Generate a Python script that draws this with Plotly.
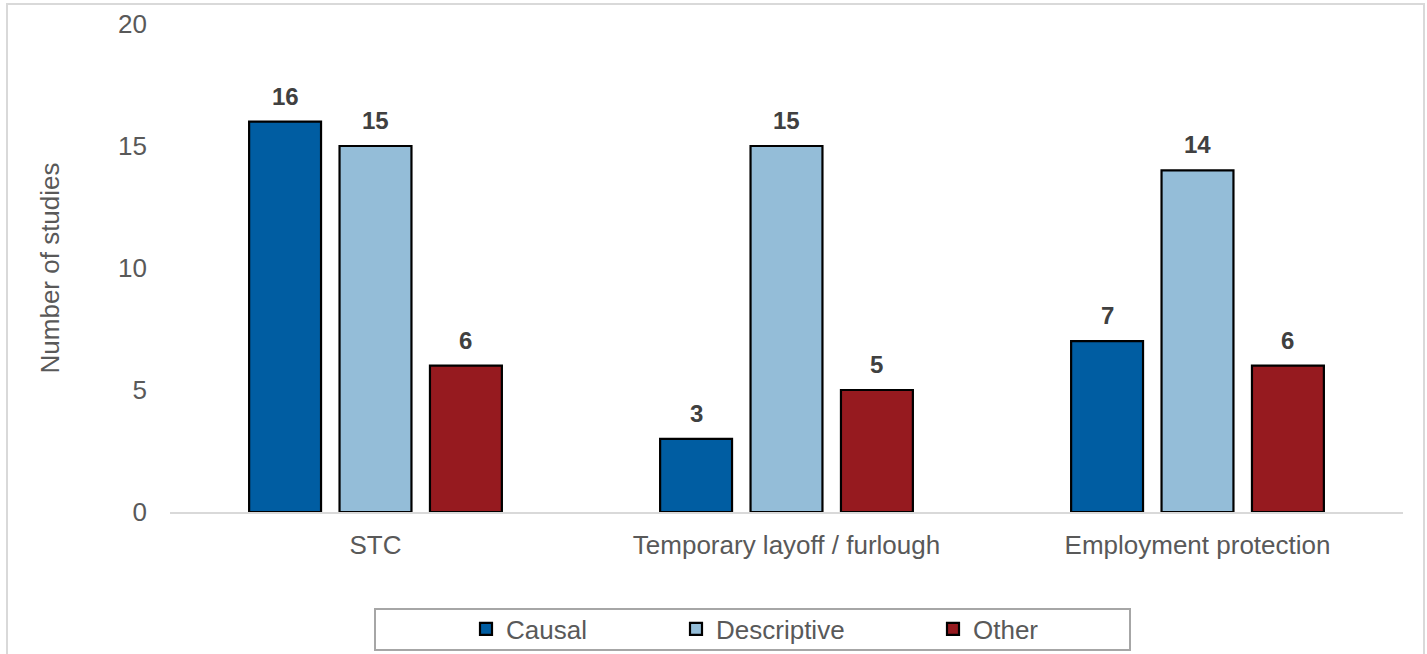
import plotly.graph_objects as go

categories = ["STC", "Temporary layoff / furlough", "Employment protection"]
causal = [16, 3, 7]
descriptive = [15, 15, 14]
other = [6, 5, 6]
series_names = ["Causal", "Descriptive", "Other"]
series_values = [causal, descriptive, other]
colors = ["#005DA2", "#94BDD8", "#961A1F"]
y_ticks = [0, 5, 10, 15, 20]

FONT = "Liberation Sans, Arial, sans-serif"
FS = 26
slot = 0.22
bar_w = 0.175

fig = go.Figure()
legend_ids = ["legend", "legend2", "legend3"]
for i, (name, vals, col) in enumerate(zip(series_names, series_values, colors)):
    xs = [j + (i - 1) * slot for j in range(len(categories))]
    fig.add_trace(go.Bar(
        x=xs, y=vals, name=name, width=bar_w, showlegend=True,
        marker=dict(color=col, line=dict(color="#000000", width=2.2)),
        legend=legend_ids[i], hoverinfo="y",
    ))
    for x, v in zip(xs, vals):
        fig.add_annotation(
            x=x, y=v, xref="x", yref="y", text=f"<b>{v}</b>", showarrow=False,
            yanchor="bottom", yshift=10,
            font=dict(family=FONT, size=24, color="#404040"),
        )

# plot area in pixels: x 170..1403, y 24..512
W, H = 1427, 654
L, R, T, B = 170, 1403, 24, 512
def px(x):
    return (x - L) / (R - L)
def py(y):
    return (B - y) / (B - T)

legend_x = [466, 676, 933]
leg_common = dict(orientation="h", yanchor="middle", xanchor="left",
                  font=dict(family=FONT, size=FS, color="#595959"),
                  bgcolor="rgba(0,0,0,0)", borderwidth=0, itemclick=False,
                  visible=True)

fig.update_layout(
    width=W, height=H,
    margin=dict(l=L, r=W - R, t=T, b=H - B, autoexpand=False),
    paper_bgcolor="white", plot_bgcolor="white",
    barmode="overlay", showlegend=True,
    font=dict(family=FONT, size=FS, color="#595959"),
    xaxis=dict(
        range=[-0.5, 2.5], tickmode="array", tickvals=list(range(len(categories))),
        ticktext=categories, showgrid=False, zeroline=False,
        showline=True, linecolor="#D9D9D9", linewidth=2, ticks="",
        ticklabelstandoff=9, automargin=False,
        tickfont=dict(family=FONT, size=FS, color="#595959"),
    ),
    yaxis=dict(
        range=[0, 20], tickmode="array", tickvals=y_ticks, showgrid=False,
        zeroline=False, showline=False, ticks="", ticklabelstandoff=22,
        automargin=False,
        tickfont=dict(family=FONT, size=FS, color="#595959"),
        title=dict(text="Number of studies", standoff=50,
                   font=dict(family=FONT, size=FS, color="#595959")),
    ),
    legend=dict(x=px(legend_x[0]), y=py(629), **leg_common),
    legend2=dict(x=px(legend_x[1]), y=py(629), **leg_common),
    legend3=dict(x=px(legend_x[2]), y=py(629), **leg_common),
    shapes=[
        dict(type="rect", xref="paper", yref="paper",
             x0=px(7), x1=px(1424), y0=py(670), y1=py(4),
             line=dict(color="#D9D9D9", width=2), fillcolor="rgba(0,0,0,0)", layer="below"),
        dict(type="rect", xref="paper", yref="paper",
             x0=px(375), x1=px(1130), y0=py(650), y1=py(609),
             line=dict(color="#A6A6A6", width=2), fillcolor="rgba(0,0,0,0)", layer="below"),
    ],
)

fig.write_html("out.html")
